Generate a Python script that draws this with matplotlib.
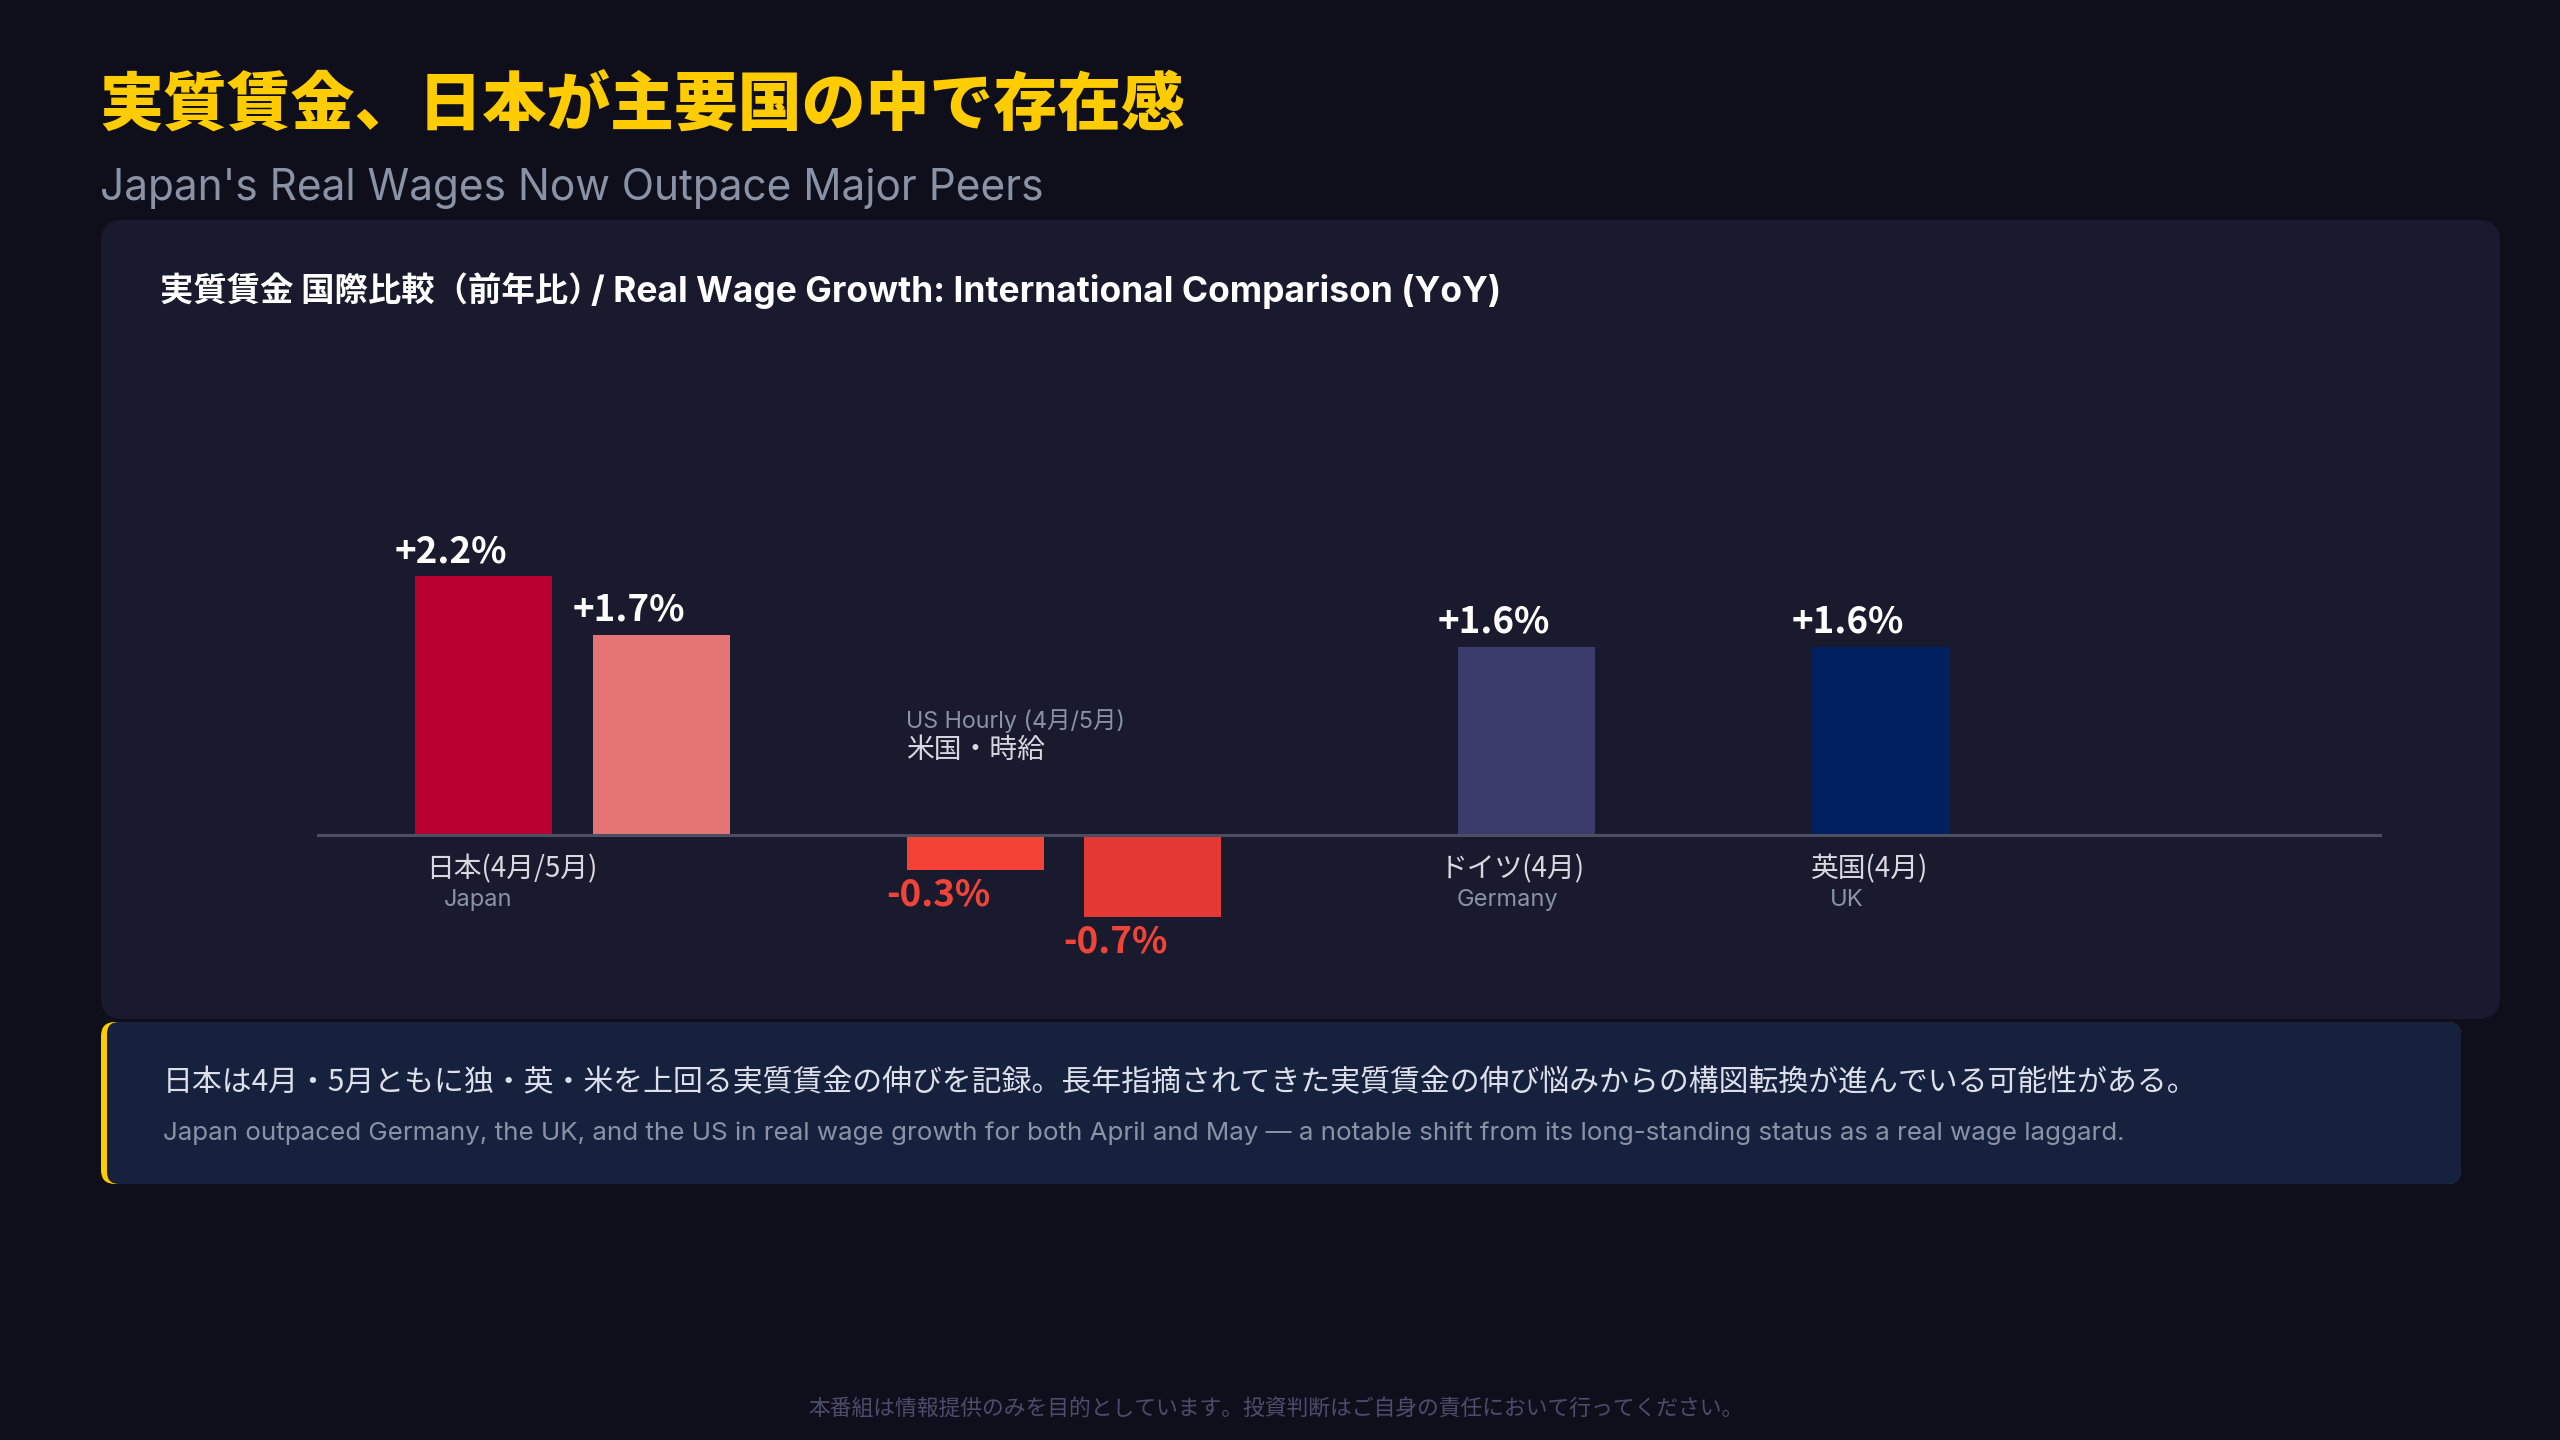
import matplotlib
matplotlib.use('Agg')
import matplotlib.pyplot as plt
from matplotlib.patches import FancyBboxPatch

plt.rcParams['font.family'] = ['Noto Sans CJK JP', 'DejaVu Sans']
LATIN = ['Inter', 'Noto Sans CJK JP', 'DejaVu Sans']

# data
bar_names = ['日本 4月', '日本 5月', '米国 4月', '米国 5月', 'ドイツ 4月', '英国 4月']
values = [2.2, 1.7, -0.3, -0.7, 1.6, 1.6]
value_labels = ['+2.2%', '+1.7%', '-0.3%', '-0.7%', '+1.6%', '+1.6%']
cat_jp = ['日本(4月/5月)', 'ドイツ(4月)', '英国(4月)']
cat_en = ['Japan', 'Germany', 'UK']
us_en = 'US Hourly (4月/5月)'
us_jp = '米国・時給'

title = '実質賃金、日本が主要国の中で存在感'
subtitle = "Japan's Real Wages Now Outpace Major Peers"
chart_title_jp = '実質賃金 国際比較（前年比）'
chart_title_en = '/ Real Wage Growth: International Comparison (YoY)'
note_jp = ('日本は4月・5月ともに独・英・米を上回る実質賃金の伸びを記録。'
           '長年指摘されてきた実質賃金の伸び悩みからの構図転換が進んでいる可能性がある。')
note_en = ('Japan outpaced Germany, the UK, and the US in real wage growth for both April and May'
           ' \u2014 a notable shift from its long-standing status as a real wage laggard.')
footer = '本番組は情報提供のみを目的としています。投資判断はご自身の責任において行ってください。'

# colours
BG = '#0f0f1c'
PANEL = '#1a1a2e'
NOTE = '#16213e'
YELLOW = '#ffcc00'
GRAY = '#8a93a6'
bar_colors = ['#b8002e', '#e57575', '#f44336', '#e53935', '#3c3c6c', '#00205f']

# layout (pixels)
W, H = 2560, 1440
bar_x = [483, 661, 975, 1152, 1526, 1880]
bar_w = 137
base_y = 835
px_per_unit = 117.7
cat_pos = [(426, 444), (1440, 1457), (1811, 1830)]

fig = plt.figure(figsize=(W / 100, H / 100), dpi=100)
fig.patch.set_facecolor(BG)

bg = fig.add_axes([0, 0, 1, 1])
bg.set_xlim(0, W)
bg.set_ylim(H, 0)
bg.axis('off')

# panels
bg.add_patch(FancyBboxPatch((101, 220), 2399, 799, boxstyle='round,pad=0,rounding_size=22',
                            fc=PANEL, ec='none'))
bg.add_patch(FancyBboxPatch((101, 1022), 2360, 162, boxstyle='round,pad=0,rounding_size=14',
                            fc=YELLOW, ec='none'))
bg.add_patch(FancyBboxPatch((107, 1022), 2354, 162, boxstyle='round,pad=0,rounding_size=12',
                            fc=NOTE, ec='none'))

# titles
bg.text(99, 106, title, color=YELLOW, fontsize=46, fontweight='heavy', va='center', ha='left')
bg.text(100, 200, subtitle, color=GRAY, fontsize=30.5, va='baseline', ha='left', family=LATIN)
bg.text(160, 302, chart_title_jp, color='white', fontsize=24, fontweight='bold',
        va='baseline', ha='left')
bg.text(591, 302, chart_title_en, color='white', fontsize=25.5, fontweight='bold',
        va='baseline', ha='left', family=LATIN)

# chart axes, x in pixels, y in percent
top_px, bot_px = 480, 960
left_px, right_px = 317, 2382
ax = fig.add_axes([left_px / W, 1 - bot_px / H, (right_px - left_px) / W, (bot_px - top_px) / H])
ax.set_xlim(left_px, right_px)
ax.set_ylim(-(bot_px - base_y) / px_per_unit, (base_y - top_px) / px_per_unit)
ax.axis('off')
ax.patch.set_alpha(0)

ax.bar(bar_x, values, width=bar_w, color=bar_colors, zorder=2)
ax.axhline(0, color='#4e4e62', lw=2.2, zorder=3)

for x, v, lab in zip(bar_x, values, value_labels):
    if v >= 0:
        ax.annotate(lab, xy=(x - bar_w / 2, v), xytext=(-20, 6), textcoords='offset pixels',
                    ha='left', va='bottom', color='white', fontsize=26.5, fontweight='bold')
    else:
        ax.annotate(lab, xy=(x - bar_w / 2, v), xytext=(-20, -6), textcoords='offset pixels',
                    ha='left', va='top', color='#f04438', fontsize=26.5, fontweight='bold')

# category labels
for (xm, xs), jp, en in zip(cat_pos, cat_jp, cat_en):
    bg.text(xm, 869, jp, color='#d8d8e0', fontsize=20, va='center', ha='left')
    bg.text(xs, 900, en, color=GRAY, fontsize=17, va='center', ha='left', family=LATIN)

us_left = bar_x[2] - bar_w / 2
bg.text(us_left, 721, us_en, color=GRAY, fontsize=16.8, va='center', ha='left', family=LATIN)
bg.text(us_left, 750, us_jp, color='#d8d8e0', fontsize=20, va='center', ha='left')

# note
bg.text(163, 1083, note_jp, color='#dde0ea', fontsize=21.5, va='center', ha='left')
bg.text(163, 1133, note_en, color=GRAY, fontsize=18.7, va='center', ha='left', family=LATIN)

# footer
bg.text(1276, 1409, footer, color='#4c4c6c', fontsize=15.7, va='center', ha='center')

fig.savefig('out.png', dpi=100, facecolor=BG)
